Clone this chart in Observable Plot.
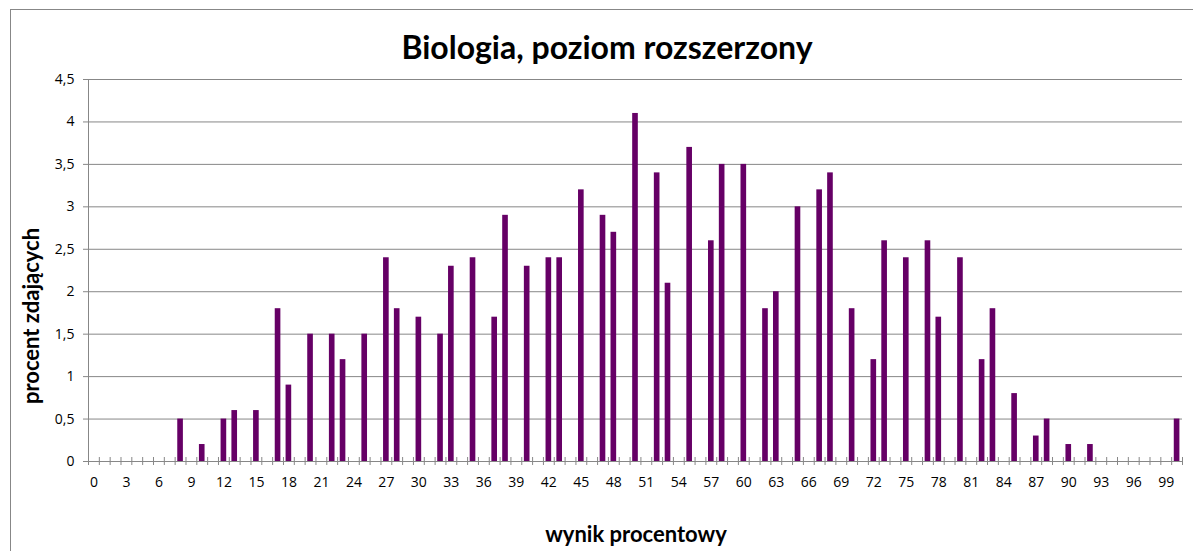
<!DOCTYPE html>
<html>
<head>
<meta charset="utf-8">
<script src="https://cdn.jsdelivr.net/npm/d3@7"></script>
<script src="https://cdn.jsdelivr.net/npm/@observablehq/plot@0.6"></script>
<style>
  html, body { margin: 0; padding: 0; background: #fff; }
  #wrap { position: relative; width: 1193px; height: 551px; overflow: hidden; }
  #frame { position: absolute; left: 10px; top: 9px; width: 1200px; height: 600px;
           border-left: 1px solid #878787; border-top: 1px solid #878787; box-sizing: border-box; }
  .lbl { position: absolute; font-family: Lato, "Open Sans", sans-serif; font-weight: bold; color: #000;
         white-space: nowrap; transform: translate(-50%, -50%); }
  #title { left: 607px; top: 46px; font-size: 32px; }
  #xlab { left: 636px; top: 533px; font-size: 22px; }
  #ylab { left: 30px; top: 316px; font-size: 22px; transform: translate(-50%, -50%) rotate(-90deg); }
  #chart { position: absolute; left: 0; top: 0; }
</style>
</head>
<body>
<div id="wrap">
  <div id="frame"></div>
  <div id="chart"></div>
  <div class="lbl" id="title">Biologia, poziom rozszerzony</div>
  <div class="lbl" id="ylab">procent zdających</div>
  <div class="lbl" id="xlab">wynik procentowy</div>
</div>
<script>
// Scores (wynik procentowy) that have a non-zero bar
const scores = [8, 10, 12, 13, 15, 17, 18, 20, 22, 23, 25, 27, 28, 30, 32, 33, 35, 37, 38, 40,
  42, 43, 45, 47, 48, 50, 52, 53, 55, 57, 58, 60, 62, 63, 65, 67, 68, 70, 72, 73,
  75, 77, 78, 80, 82, 83, 85, 87, 88, 90, 92, 100];
// Percent of test takers (procent zdających)
const percents = [0.5, 0.2, 0.5, 0.6, 0.6, 1.8, 0.9, 1.5, 1.5, 1.2, 1.5, 2.4, 1.8, 1.7, 1.5, 2.3, 2.4, 1.7, 2.9, 2.3,
  2.4, 2.4, 3.2, 2.9, 2.7, 4.1, 3.4, 2.1, 3.7, 2.6, 3.5, 3.5, 1.8, 2.0, 3.0, 3.2, 3.4, 1.8, 1.2, 2.6,
  2.4, 2.6, 1.7, 2.4, 1.2, 1.8, 0.8, 0.3, 0.5, 0.2, 0.2, 0.5];
// Category axis: scores 0..100, labels every third category
const categories = d3.range(0, 101);
const xTickLabels = [0, 3, 6, 9, 12, 15, 18, 21, 24, 27, 30, 33, 36, 39, 42, 45, 48, 51, 54, 57,
  60, 63, 66, 69, 72, 75, 78, 81, 84, 87, 90, 93, 96, 99];
const yTicks = [0, 0.5, 1, 1.5, 2, 2.5, 3, 3.5, 4, 4.5];

const rows = scores.map((s, i) => ({score: s, value: percents[i]}));
const boundaries = categories.concat([101]).map(c => c - 0.5);
const half = 0.26; // half bar width, in category steps
const grid = "#878787";

const chart = Plot.plot({
  width: 1193,
  height: 551,
  marginLeft: 88,
  marginRight: 11,
  marginTop: 79,
  marginBottom: 90,
  x: {domain: [-0.5, 100.5]},
  y: {domain: [0, 4.5]},
  style: {fontFamily: "'Open Sans', sans-serif", fontSize: "14px", background: "transparent", color: "#000"},
  marks: [
    Plot.gridY(yTicks, {stroke: grid, strokeOpacity: 1}),
    Plot.ruleX([-0.5], {stroke: grid}),
    Plot.axisY({ticks: yTicks, tickSize: 5, tickPadding: 9, stroke: grid, fill: "#000",
                tickFormat: d => String(d).replace(".", ","), label: null}),
    Plot.rectY(rows, {x1: d => d.score - half, x2: d => d.score + half, y: "value", fill: "#660066"}),
    Plot.ruleY([0], {stroke: grid}),
    Plot.ruleX(boundaries, {y1: 0, y2: 0, insetTop: -4, insetBottom: -4, stroke: grid}),
    Plot.axisX({ticks: xTickLabels, tickSize: 0, tickPadding: 16, fill: "#000", label: null})
  ]
});
document.getElementById("chart").appendChild(chart);
</script>
</body>
</html>
